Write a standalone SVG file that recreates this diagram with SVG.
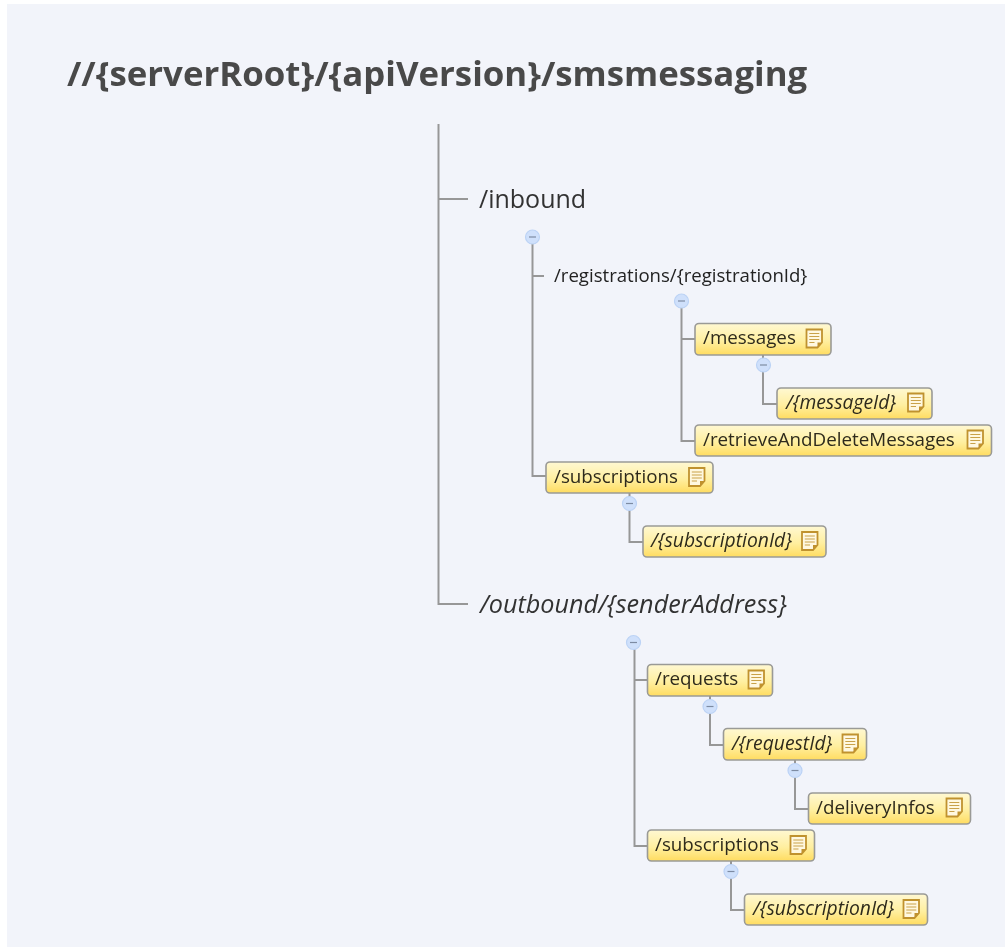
<svg xmlns="http://www.w3.org/2000/svg" width="1005" height="947" viewBox="0 0 1005 947">
<defs>
<style>
text{font-family:"Open Sans","Noto Sans","Liberation Sans",sans-serif;fill:#333}
.box{fill:url(#yel);stroke:#9a9a96;stroke-width:1.600}
.t{font-size:18.800px;fill:#2e2a1c}
.i{font-style:italic;font-size:19.300px}
.c{fill:none;stroke:#979797;stroke-width:2}
.m{fill:#cfe0fb;stroke:#bcd3f5;stroke-width:1.200}
.mm{stroke:#7d8ba3;stroke-width:1.200}
</style>
<linearGradient id="yel" x1="0" y1="0" x2="0" y2="1"><stop offset="0" stop-color="#fff8d2"/><stop offset="0.55" stop-color="#ffefa0"/><stop offset="1" stop-color="#ffdc60"/></linearGradient>
<g id="note"><path d="M0 0H15.500V13L11 18H0Z" fill="#fff8e0" stroke="#c0922f" stroke-width="1.800"/><path d="M2.800 4H12.800M2.800 7H12.800M2.800 10H12.800M2.800 13H8" stroke="#c9a24a" stroke-width="1.200"/><path d="M15.500 13H11V18Z" fill="#c0922f"/></g>
<g id="tog"><circle r="7" class="m"/><path d="M-3.500 0H3.500" class="mm"/></g>
<filter id="soft" x="-2%" y="-2%" width="104%" height="104%"><feGaussianBlur stdDeviation="0.45"/></filter>
</defs>
<rect width="1005" height="947" fill="#fff"/>
<rect x="7" y="4" width="998" height="943" fill="#f2f4fa"/>
<g filter="url(#soft)">
<g id="connectors">
<path class="c" d="M438.500 124V604H468M438.500 199H468"/>
<path class="c" d="M532.500 243V476H546M532.500 276H544"/>
<path class="c" d="M681.500 307V441H695M681.500 339H695"/>
<path class="c" d="M763 355V404H777"/>
<path class="c" d="M629.500 493V542H643"/>
<path class="c" d="M634.500 649V846H647M634.500 680H647"/>
<path class="c" d="M710 696V745H723"/>
<path class="c" d="M795 760V809H808"/>
<path class="c" d="M731 861V910H744"/>
</g>
<g id="root"><text x="67" y="86" font-size="34.800" font-weight="700" style="fill:#4a4a4a">//{serverRoot}/{apiVersion}/smsmessaging</text></g>
<g id="inbound"><text x="479" y="207.500" font-size="25">/inbound</text><use href="#tog" x="532.500" y="237"/></g>
<g id="registrations"><text x="554" y="282" font-size="18.600" style="fill:#222">/registrations/{registrationId}</text><use href="#tog" x="681.500" y="301"/></g>
<g id="messages"><rect class="box" x="695" y="323.500" width="136" height="31.500" rx="4"/><text class="t" x="703" y="344">/messages</text><use href="#note" x="806.500" y="329.500"/><use href="#tog" x="763.500" y="365"/></g>
<g id="messageId"><rect class="box" x="777" y="388" width="155" height="31" rx="4"/><text class="t i" x="786" y="409">/{messageId}</text><use href="#note" x="908" y="393.500"/></g>
<g id="retrieve"><rect class="box" x="695" y="425" width="296.500" height="31" rx="4"/><text class="t" x="703" y="445.500">/retrieveAndDeleteMessages</text><use href="#note" x="967.500" y="430.500"/></g>
<g id="subscriptions1"><rect class="box" x="546" y="462" width="167" height="31" rx="4"/><text class="t" x="554" y="483">/subscriptions</text><use href="#note" x="689" y="468"/><use href="#tog" x="629.500" y="503.500"/></g>
<g id="subscriptionId1"><rect class="box" x="643" y="526" width="183" height="31" rx="4"/><text class="t i" x="651" y="547">/{subscriptionId}</text><use href="#note" x="802" y="532"/></g>
<g id="outbound"><text class="i" x="480" y="613" style="font-size:25.200px">/outbound/{senderAddress}</text><use href="#tog" x="633.500" y="642.500"/></g>
<g id="requests"><rect class="box" x="647.500" y="664.500" width="125" height="31.500" rx="4"/><text class="t" x="655" y="685">/requests</text><use href="#note" x="748.500" y="670.500"/><use href="#tog" x="710" y="706.500"/></g>
<g id="requestId"><rect class="box" x="723.500" y="728.500" width="143" height="31.500" rx="4"/><text class="t i" x="732" y="750">/{requestId}</text><use href="#note" x="842.500" y="734.500"/><use href="#tog" x="795" y="770.500"/></g>
<g id="deliveryInfos"><rect class="box" x="808.500" y="793" width="162" height="31" rx="4"/><text class="t" x="816" y="814">/deliveryInfos</text><use href="#note" x="946.500" y="798.500"/></g>
<g id="subscriptions2"><rect class="box" x="647.500" y="830" width="167" height="31" rx="4"/><text class="t" x="655" y="851">/subscriptions</text><use href="#note" x="790.500" y="836"/><use href="#tog" x="731" y="871.500"/></g>
<g id="subscriptionId2"><rect class="box" x="744.500" y="894" width="183" height="31" rx="4"/><text class="t i" x="753" y="915">/{subscriptionId}</text><use href="#note" x="903.500" y="900"/></g>
</g>
</svg>
